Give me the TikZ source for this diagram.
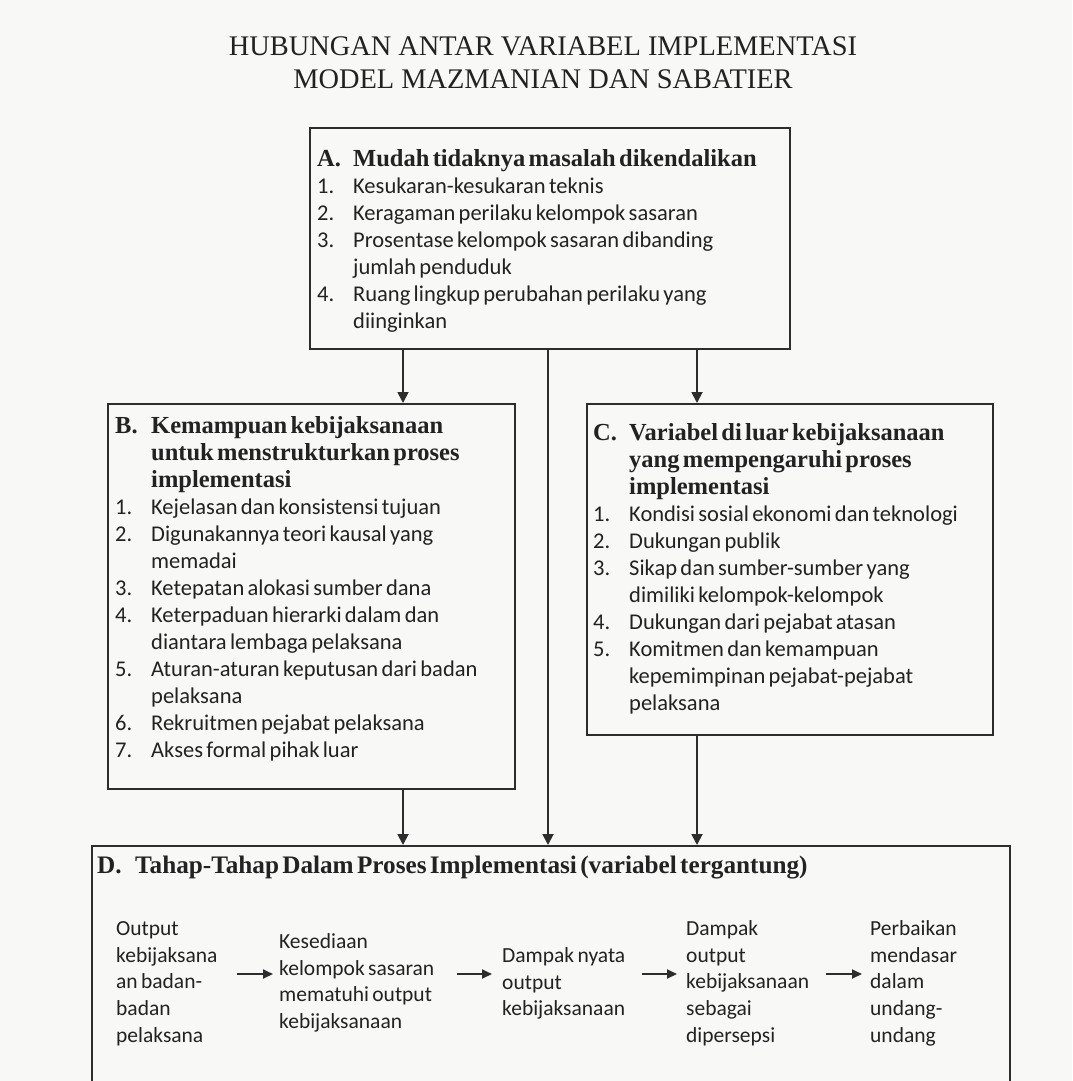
\documentclass[tikz,border=0pt]{standalone}
\usepackage{fontspec}
\setmainfont{Liberation Serif}
\newfontfamily\bodyfont{Carlito}
\usetikzlibrary{arrows.meta}

\definecolor{paper}{RGB}{248,248,246}
\definecolor{ink}{RGB}{34,34,34}
\definecolor{rulecol}{RGB}{45,45,45}

% text helpers: hanging-indent headings and numbered entries
\newlength\numw
\setlength\numw{36pt}
\newcommand\headtxt{\fontsize{24.5}{27}\selectfont\bfseries}
\newcommand\bodytxt{\bodyfont\fontsize{22.5}{27}\selectfont}
\newcommand\stagetxt{\bodyfont\fontsize{21.5}{26.8}\selectfont}
\newcommand\firststrut{\rule{0pt}{22pt}}
\newcommand\hd[2]{{\headtxt\noindent\hangindent=\numw\hangafter=1\firststrut\makebox[\numw][l]{#1}#2\par}}
\newcommand\entry[2]{{\bodytxt\noindent\hangindent=\numw\hangafter=1\makebox[\numw][l]{#1}#2\par}}
% stage text: ragged lines, broken by hand
\newcommand\stagelines[1]{{\stagetxt\raggedright\noindent\firststrut#1\par}}

\tikzset{
  box/.style={draw=rulecol, line width=1.8pt, fill=none, inner sep=0pt, anchor=north west},
  txt/.style={inner sep=0pt, anchor=north west, text=ink, align=left,
    execute at begin node={\lineskiplimit=-\maxdimen\hyphenpenalty=10000}},
  stage/.style={txt},
  arr/.style={draw=rulecol, line width=1.8pt, -{Triangle[length=11pt,width=11pt]}},
  sarr/.style={draw=rulecol, line width=1.8pt, -{Triangle[length=10pt,width=9pt]}},
}

\begin{document}
\begin{tikzpicture}[x=1pt, y=-1pt]
  \fill[paper] (0,0) rectangle (1072,1081);
  \useasboundingbox (0,0) rectangle (1072,1081);
  \clip (0,0) rectangle (1072,1081);

  % title
  \node[inner sep=0pt, anchor=north, align=center, text=ink,
        font=\fontsize{28.4}{33}\selectfont] (title) at (543,55-22)
    {\firststrut HUBUNGAN ANTAR VARIABEL IMPLEMENTASI\\MODEL MAZMANIAN DAN SABATIER};

  % frames
  \node[box, minimum width=480pt, minimum height=221pt] (boxA) at (309,127) {};
  \node[box, minimum width=407pt, minimum height=385pt] (boxB) at (107,403) {};
  \node[box, minimum width=406pt, minimum height=331pt] (boxC) at (586,403) {};
  \node[box, minimum width=918pt, minimum height=330pt] (boxD) at (91,845) {};

  % box A
  \node[txt, text width=468pt] (tA) at (317,166-22) {%
    \hd{A.}{Mudah tidaknya masalah dikendalikan}%
    \entry{1.}{Kesukaran-kesukaran teknis}%
    \entry{2.}{Keragaman perilaku kelompok sasaran}%
    \entry{3.}{Prosentase kelompok sasaran dibanding\newline jumlah penduduk}%
    \entry{4.}{Ruang lingkup perubahan perilaku yang\newline diinginkan}};

  % box B
  \node[txt, text width=395pt] (tB) at (115,433-22) {%
    \hd{B.}{Kemampuan kebijaksanaan\newline untuk menstrukturkan proses\newline implementasi}%
    \entry{1.}{Kejelasan dan konsistensi tujuan}%
    \entry{2.}{Digunakannya teori kausal yang\newline memadai}%
    \entry{3.}{Ketepatan alokasi sumber dana}%
    \entry{4.}{Keterpaduan hierarki dalam dan\newline diantara lembaga pelaksana}%
    \entry{5.}{Aturan-aturan keputusan dari badan\newline pelaksana}%
    \entry{6.}{Rekruitmen pejabat pelaksana}%
    \entry{7.}{Akses formal pihak luar}};

  % box C
  \node[txt, text width=395pt] (tC) at (593,440-22) {%
    \hd{C.}{Variabel di luar kebijaksanaan\newline yang mempengaruhi proses\newline implementasi}%
    \entry{1.}{Kondisi sosial ekonomi dan teknologi}%
    \entry{2.}{Dukungan publik}%
    \entry{3.}{Sikap dan sumber-sumber yang\newline dimiliki kelompok-kelompok}%
    \entry{4.}{Dukungan dari pejabat atasan}%
    \entry{5.}{Komitmen dan kemampuan\newline kepemimpinan pejabat-pejabat\newline pelaksana}};

  % box D heading
  \node[txt, text width=905pt] (tD) at (97,873-22) {%
    \setlength\numw{38pt}{\headtxt\fontsize{25.2}{27}\selectfont\noindent\firststrut
      \makebox[\numw][l]{D.}Tahap-Tahap Dalam Proses Implementasi (variabel tergantung)\par}};

  % stages inside D
  \node[stage, text width=121pt] (s1) at (116,935-22)
    {\stagelines{Output\newline kebijaksana\newline an badan-\newline badan\newline pelaksana}};
  \node[stage, text width=178pt] (s2) at (279,948-22)
    {\stagelines{Kesediaan\newline kelompok sasaran\newline mematuhi output\newline kebijaksanaan}};
  \node[stage, text width=140pt] (s3) at (502,962-22)
    {\stagelines{Dampak nyata\newline output\newline kebijaksanaan}};
  \node[stage, text width=140pt] (s4) at (686,935-22)
    {\stagelines{Dampak\newline output\newline kebijaksanaan\newline sebagai\newline dipersepsi}};
  \node[stage, text width=120pt] (s5) at (870,935-22)
    {\stagelines{Perbaikan\newline mendasar\newline dalam\newline undang-\newline undang}};

  % connector columns
  \coordinate (xl) at (403,0);
  \coordinate (xm) at (548,0);
  \coordinate (xr) at (697,0);
  \coordinate (ys) at (0,974);

  \draw[arr] (boxA.south -| xl) -- (boxB.north -| xl);
  \draw[arr] (boxA.south -| xr) -- (boxC.north -| xr);
  \draw[arr] (boxA.south -| xm) -- (boxD.north -| xm);
  \draw[arr] (boxB.south -| xl) -- (boxD.north -| xl);
  \draw[arr] (boxC.south -| xr) -- (boxD.north -| xr);

  \draw[sarr, shorten >=6pt] (s1.east |- ys) -- (s2.west |- ys);
  \draw[sarr, shorten >=10pt] (s2.east |- ys) -- (s3.west |- ys);
  \draw[sarr, shorten >=9pt] (s3.east |- ys) -- (s4.west |- ys);
  \draw[sarr, shorten >=8pt] (s4.east |- ys) -- (s5.west |- ys);
\end{tikzpicture}
\end{document}
